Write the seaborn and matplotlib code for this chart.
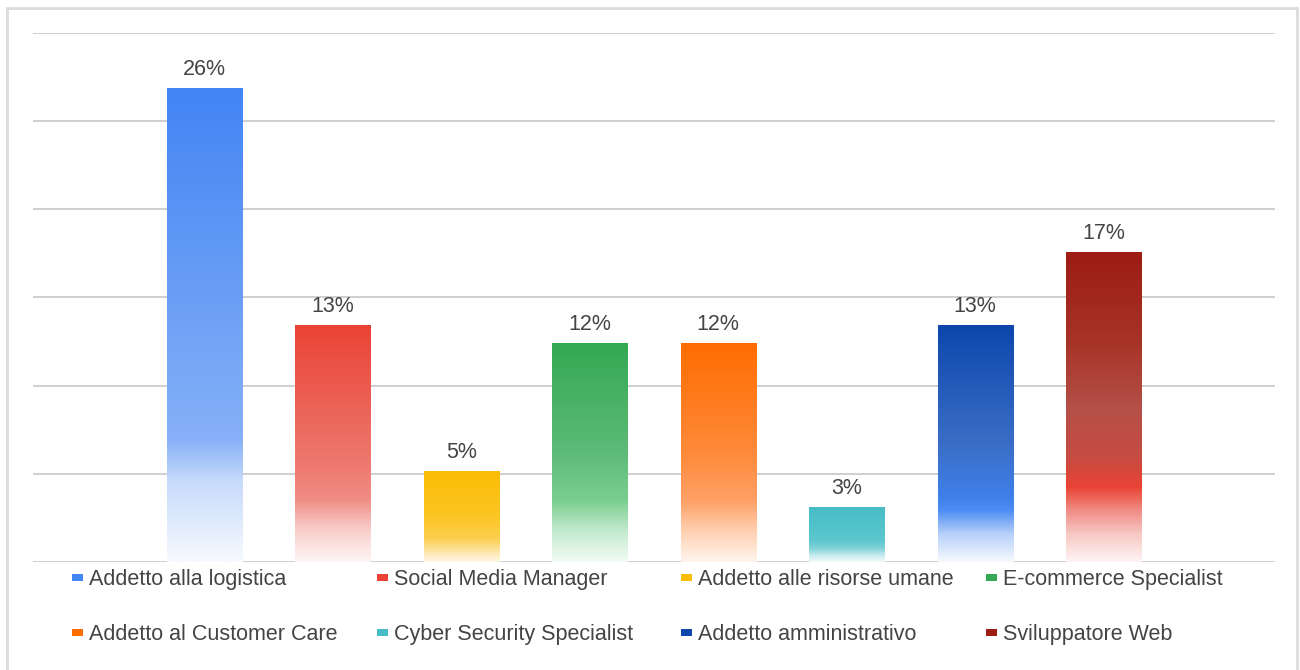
import numpy as np
import pandas as pd
import matplotlib
matplotlib.use("Agg")
import matplotlib.pyplot as plt
from matplotlib.colors import LinearSegmentedColormap
from matplotlib.patches import Patch, Rectangle
import seaborn as sns

# Job profiles and their share of requests (%)
categories = [
    "Addetto alla logistica",
    "Social Media Manager",
    "Addetto alle risorse umane",
    "E-commerce Specialist",
    "Addetto al Customer Care",
    "Cyber Security Specialist",
    "Addetto amministrativo",
    "Sviluppatore Web",
]
shares = [26, 13, 5, 12, 12, 3, 13, 17]

# Vertical gradient of each bar: (position from top, colour)
gradients = [
    [(0.0, "#4285F4"), (0.74, "#86B0F7"), (0.83, "#C6DAFB"), (1.0, "#F7FAFF")],
    [(0.0, "#EA4335"), (0.6, "#EE7A70"), (0.74, "#F08E86"), (0.86, "#F8CCC8"), (1.0, "#FEF6F6")],
    [(0.0, "#FBBC04"), (0.5, "#FBC523"), (0.75, "#FCCF50"), (0.9, "#FDE8B0"), (1.0, "#FFF8E8")],
    [(0.0, "#34A853"), (0.5, "#5DBB77"), (0.72, "#7ACF8F"), (0.86, "#C4EACF"), (1.0, "#F2FBF4")],
    [(0.0, "#FF6D01"), (0.5, "#FF8A3A"), (0.72, "#FFA066"), (0.86, "#FFD0B0"), (1.0, "#FFF5EE")],
    [(0.0, "#46BDC6"), (0.6, "#5CC6CE"), (0.75, "#80D2D8"), (0.9, "#D0EEF0"), (1.0, "#F4FBFC")],
    [(0.0, "#0D47AC"), (0.5, "#3A6EC6"), (0.72, "#3F7FE8"), (0.78, "#4A8BF4"), (0.88, "#B5CFF9"), (1.0, "#F7FAFF")],
    [(0.0, "#9D1C13"), (0.3, "#A83428"), (0.5, "#B35048"), (0.66, "#C64C42"), (0.76, "#EA4335"),
     (0.83, "#F08880"), (0.91, "#F8C8C4"), (1.0, "#FEF3F3")],
]
top_colors = [g[0][1] for g in gradients]

sns.set_theme(style="white")
plt.rcParams["font.family"] = ["Liberation Sans", "DejaVu Sans"]

W, H = 1300, 670
fig = plt.figure(figsize=(W / 100, H / 100), dpi=100)
fig.patch.set_facecolor("white")

# light frame around the chart area
fig.add_artist(Rectangle((7 / W, -0.05), 1290 / W, (H - 8) / H + 0.05,
                         transform=fig.transFigure, fill=False,
                         edgecolor="#DCDCDC", linewidth=2))

ax = fig.add_axes([33 / W, (H - 562) / H, (1275 - 33) / W, (562 - 33) / H])

df = pd.DataFrame({"profilo": categories, "quota": shares})
sns.barplot(data=df, x="profilo", y="quota", hue="profilo", palette=top_colors,
            order=categories, hue_order=categories, width=0.584,
            legend=False, ax=ax, linewidth=0, saturation=1)

ytop = 29.02
grad = np.linspace(0, 1, 512).reshape(-1, 1)
for patch in list(ax.patches):
    x0, y0 = patch.get_x(), patch.get_y()
    w, h = patch.get_width(), patch.get_height()
    idx = int(round(x0 + w / 2))
    cmap = LinearSegmentedColormap.from_list(f"g{idx}", gradients[idx])
    im = ax.imshow(grad, cmap=cmap, extent=(x0, x0 + w, y0, y0 + h),
                   origin="upper", aspect="auto", interpolation="bilinear",
                   zorder=2)
    im.set_clip_path(patch)
    patch.set_facecolor("none")
    patch.set_edgecolor("none")

for container in ax.containers:
    ax.bar_label(container, fmt="%d%%", padding=6, fontsize=15.5, color="#444444")

ax.set_xlim(-1.335, 8.335)
ax.set_ylim(0, ytop)
ax.set_yticks(np.linspace(0, ytop, 7))
ax.yaxis.grid(True, color="#CFCFCF", linewidth=1.4)
ax.xaxis.grid(False)
ax.set_axisbelow(True)
ax.tick_params(length=0, labelleft=False, labelbottom=False)
ax.set_xlabel("")
ax.set_ylabel("")
for s in ax.spines.values():
    s.set_visible(False)
ax.patch.set_alpha(0)

# legend: four fixed-width columns, two rows
handles = [Patch(facecolor=c, edgecolor="none") for c in top_colors]
col_x = [72, 377, 681, 986]
for j, x in enumerate(col_x):
    fig.legend([handles[j], handles[j + 4]], [categories[j], categories[j + 4]],
               loc="upper left", bbox_to_anchor=(x / W, (H - 569) / H),
               frameon=False, fontsize=15.5, labelcolor="#444444",
               handlelength=0.52, handleheight=0.125, handletextpad=0.25,
               labelspacing=1.6, borderpad=0, borderaxespad=0)

fig.savefig("out.png", dpi=100, facecolor="white")
